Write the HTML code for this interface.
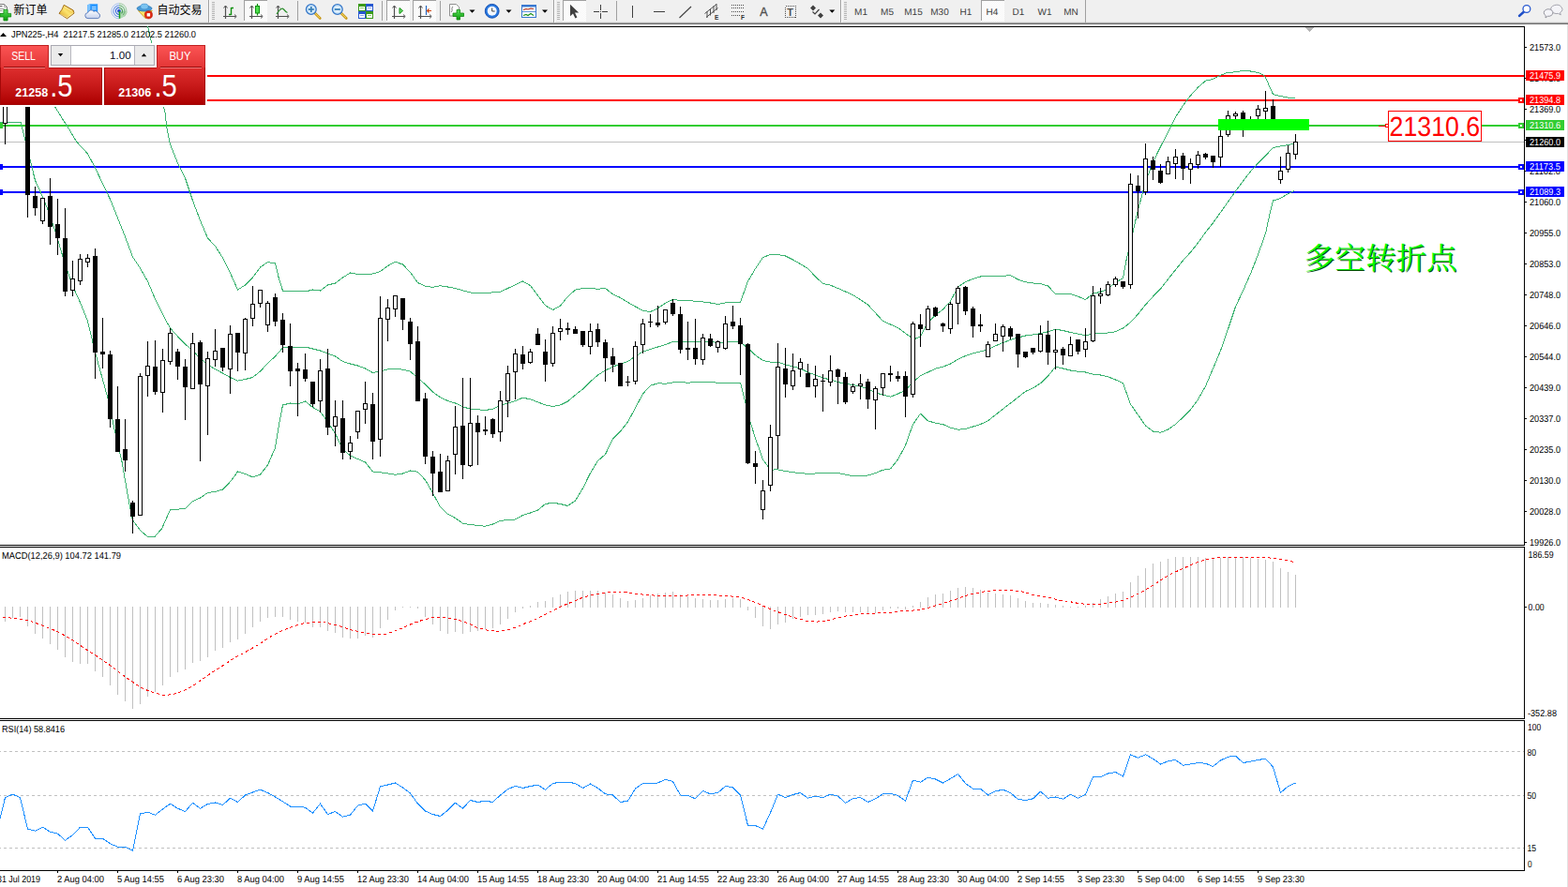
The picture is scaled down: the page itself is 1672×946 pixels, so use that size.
<!DOCTYPE html>
<html><head><meta charset="utf-8"><title>JPN225 H4</title>
<style>
html,body{margin:0;padding:0;background:#fff}
body{width:1672px;height:946px;position:relative;overflow:hidden;font-family:"Liberation Sans",sans-serif}
</style></head><body>
<svg width="1672" height="946" viewBox="0 0 1672 946" style="position:absolute;left:0;top:0" shape-rendering="crispEdges">
<g fill="#000">
<rect x="0" y="28" width="1626" height="1"/>
<rect x="1625" y="28" width="1" height="554"/><rect x="1625" y="583" width="1" height="184"/><rect x="1625" y="768" width="1" height="161"/>
<rect x="0" y="581" width="1626" height="1"/>
<rect x="0" y="583" width="1626" height="1"/>
<rect x="0" y="766" width="1626" height="1"/>
<rect x="0" y="768" width="1626" height="1"/>
<rect x="0" y="928" width="1626" height="1"/>
</g>
<rect x="0" y="151" width="1625" height="1" fill="#c0c0c0"/>
<rect x="0" y="80" width="1625" height="2" fill="#ff0000"/>
<rect x="0" y="106" width="1625" height="2" fill="#ff0000"/>
<rect x="0" y="133" width="1625" height="2" fill="#32cd32"/>
<rect x="0" y="177" width="1625" height="2" fill="#0000ff"/>
<rect x="0" y="204" width="1625" height="2" fill="#0000ff"/>
<rect x="-3" y="131" width="6" height="6" fill="#32cd32"/>
<rect x="-3" y="175" width="6" height="6" fill="#0000ff"/>
<rect x="-3" y="202" width="6" height="6" fill="#0000ff"/>
<rect x="1619" y="104" width="6" height="6" fill="#ff0000"/><rect x="1621" y="106" width="2" height="2" fill="#fff"/>
<rect x="1619" y="131" width="6" height="6" fill="#32cd32"/><rect x="1621" y="133" width="2" height="2" fill="#fff"/>
<rect x="1619" y="175" width="6" height="6" fill="#0000ff"/><rect x="1621" y="177" width="2" height="2" fill="#fff"/>
<rect x="1619" y="202" width="6" height="6" fill="#0000ff"/><rect x="1621" y="204" width="2" height="2" fill="#fff"/>
<path d="M1391 29h10l-5 5z" fill="#b4b4b4"/>
<polyline points="157.5,28.0 161.6,45.6 168.0,80.0 174.0,112.0 176.0,120.0 177.5,134.0 181.5,154.0 189.5,174.0 197.5,190.0 205.5,214.0 213.5,235.0 221.5,254.0 229.5,262.5 237.5,275.0 245.5,291.0 253.5,309.0 261.5,304.0 269.5,296.0 277.5,285.0 285.5,279.5 293.5,281.0 297.5,297.5 301.5,310.0 309.5,310.0 317.5,310.5 325.5,311.0 333.5,309.0 341.5,310.0 349.5,304.0 357.5,302.0 365.5,296.0 373.5,291.0 381.5,292.5 389.5,293.0 397.5,292.0 405.5,289.5 413.5,283.5 421.5,279.3 429.5,282.0 437.5,290.5 445.5,301.5 453.5,305.3 461.5,306.4 469.5,304.7 477.5,306.0 485.5,307.5 501.5,312.0 517.5,312.5 533.5,311.2 549.5,303.8 557.5,300.0 565.5,304.5 573.5,315.0 581.5,325.8 589.5,330.5 597.5,326.2 605.5,316.2 613.5,309.2 621.5,307.5 629.5,307.5 637.5,308.2 645.5,307.5 653.5,313.8 661.5,317.5 669.5,322.5 677.5,327.0 685.5,331.2 693.5,332.5 701.5,328.8 709.5,323.2 717.5,319.5 725.5,320.5 733.5,320.5 741.5,321.2 749.5,322.0 757.5,323.0 765.5,324.5 773.5,323.0 781.5,322.5 789.5,322.3 797.5,300.0 805.5,286.5 813.5,274.5 821.5,271.5 829.5,271.5 837.5,273.0 845.5,277.0 853.5,281.5 861.5,286.5 869.5,295.0 877.5,302.5 885.5,304.2 893.5,307.5 909.5,314.5 925.5,325.0 941.5,342.5 957.5,349.5 970.0,358.8 976.2,361.2 981.5,358.8 989.5,343.8 997.5,336.2 1005.5,330.0 1013.5,321.2 1021.5,306.2 1029.5,300.5 1037.5,297.5 1045.5,295.0 1053.5,294.2 1061.5,294.5 1069.5,294.2 1077.5,293.8 1085.5,298.0 1093.5,300.8 1101.5,302.0 1109.5,302.5 1117.5,305.0 1125.5,313.5 1133.5,313.5 1141.5,313.5 1149.5,316.2 1157.5,319.6 1165.5,313.0 1173.5,311.4 1181.5,308.0 1189.5,301.3 1197.5,296.6 1201.2,276.5 1205.5,259.0 1208.8,244.0 1213.5,224.0 1221.5,194.0 1229.5,172.8 1237.5,156.5 1245.5,141.2 1253.5,125.0 1261.5,112.5 1269.5,101.9 1277.5,93.1 1285.5,86.2 1293.5,84.4 1301.5,80.2 1309.5,77.2 1317.5,76.9 1325.5,75.2 1333.5,76.0 1341.5,77.5 1346.2,79.4 1349.5,82.5 1353.5,91.9 1357.5,100.6 1365.5,102.5 1373.5,104.1 1381.0,104.4" fill="none" stroke="#3cb371" stroke-width="1" />
<polyline points="50.0,100.0 57.5,112.0 65.5,125.0 73.5,137.5 81.5,151.0 93.5,164.0 101.5,179.0 109.5,196.0 117.5,212.5 125.5,232.5 133.5,252.5 141.5,274.0 149.5,286.0 157.5,300.0 165.5,319.0 173.5,335.0 176.0,340.0 181.5,350.0 189.5,358.8 197.5,367.0 205.5,373.8 213.5,382.5 221.5,388.8 229.5,393.8 237.5,398.0 245.5,402.5 253.5,406.2 261.5,404.5 269.5,402.5 277.5,396.0 285.5,387.5 293.5,380.0 301.5,371.0 309.5,370.0 317.5,370.0 325.5,370.0 333.5,372.0 341.5,374.0 349.5,377.0 357.5,380.0 365.5,385.5 373.5,388.0 381.5,390.0 389.5,393.0 397.5,397.5 405.5,396.0 413.5,393.8 421.5,393.2 429.5,394.2 437.5,396.2 445.5,403.0 453.5,410.0 461.5,418.0 469.5,423.8 477.5,427.5 485.5,430.0 493.5,433.8 501.5,436.2 509.5,436.8 517.5,437.5 525.5,436.2 533.5,432.5 541.5,430.0 549.5,427.5 557.5,424.2 565.5,425.8 573.5,428.8 581.5,432.0 589.5,433.5 597.5,432.0 605.5,428.0 613.5,421.2 621.5,415.0 629.5,407.0 637.5,400.0 645.5,395.0 653.5,391.2 661.5,388.0 669.5,385.5 677.5,380.0 685.5,375.0 693.5,372.5 701.5,370.0 709.5,367.5 717.5,364.5 725.5,364.2 733.5,364.2 741.5,364.5 749.5,364.5 757.5,364.5 765.5,365.5 773.5,365.0 781.5,364.5 789.5,365.0 797.5,371.2 805.5,378.8 813.5,384.5 821.5,386.2 829.5,386.2 837.5,388.8 845.5,390.8 853.5,393.0 861.5,397.0 869.5,400.0 877.5,403.0 885.5,405.0 893.5,407.5 901.5,409.5 909.5,410.5 917.5,412.0 925.5,415.0 933.5,418.8 941.5,421.2 949.5,423.2 957.5,420.0 965.5,416.2 973.5,407.5 981.5,400.8 989.5,397.0 997.5,393.2 1005.5,391.2 1013.5,388.0 1021.5,383.2 1029.5,379.5 1037.5,376.8 1045.5,375.0 1053.5,372.5 1061.5,368.8 1069.5,365.5 1077.5,362.5 1085.5,360.0 1093.5,358.0 1101.5,357.0 1109.5,355.5 1117.5,353.8 1125.5,351.2 1133.5,352.5 1141.5,354.5 1149.5,356.2 1157.5,357.5 1165.5,356.2 1173.5,355.5 1181.5,355.0 1189.5,353.8 1197.5,350.0 1205.5,343.8 1213.5,335.0 1221.5,325.0 1229.5,316.2 1237.5,308.0 1245.5,297.8 1253.5,287.8 1261.5,277.8 1269.5,269.0 1277.5,259.0 1285.5,247.8 1293.5,237.8 1301.5,226.5 1309.5,215.2 1317.5,204.0 1325.5,193.2 1333.5,182.8 1341.5,174.0 1349.5,166.0 1357.5,157.5 1365.5,156.0 1373.5,154.5 1380.5,153.0" fill="none" stroke="#3cb371" stroke-width="1" />
<polyline points="0.0,130.0 22.0,130.0 29.5,160.0 37.5,192.5 45.5,210.0 53.5,230.0 61.5,255.0 69.5,282.5 77.5,305.0 85.5,322.5 93.5,342.5 101.5,375.8 115.0,425.0 122.5,460.0 130.0,492.5 137.5,535.0 141.5,555.0 150.0,566.0 157.5,572.5 165.0,572.5 172.5,563.8 181.5,543.8 197.5,542.5 205.5,534.5 213.5,531.0 221.5,525.5 229.5,524.5 237.5,522.0 245.5,513.8 253.5,503.0 261.5,505.5 269.5,508.8 277.5,506.0 285.5,496.0 293.5,477.5 297.5,452.5 301.5,432.0 309.5,430.0 317.5,431.0 325.5,428.0 333.5,434.5 341.5,439.0 349.5,450.0 357.5,462.5 365.5,478.8 373.5,486.0 381.5,489.5 389.5,493.0 397.5,503.0 405.5,503.8 413.5,505.0 421.5,506.2 429.5,505.0 437.5,502.0 445.5,503.2 453.5,512.0 461.5,525.8 469.5,540.8 477.5,548.2 485.5,552.5 493.5,558.2 501.5,559.5 509.5,560.5 517.5,561.2 525.5,559.0 533.5,555.5 541.5,554.5 549.5,554.0 557.5,549.5 565.5,547.0 573.5,544.0 581.5,537.5 589.5,536.2 597.5,537.5 605.5,539.5 613.5,534.0 621.5,520.8 629.5,504.5 637.5,491.5 645.5,484.5 653.5,468.2 661.5,460.0 669.5,450.0 677.5,435.0 685.5,420.0 693.5,411.2 701.5,408.8 709.5,409.2 717.5,408.0 725.5,407.5 733.5,408.2 741.5,407.5 749.5,407.5 757.5,407.5 765.5,408.2 773.5,408.2 781.5,408.2 789.5,408.2 795.0,430.0 800.0,450.0 805.5,467.5 813.5,490.0 821.5,501.2 829.5,500.8 837.5,502.5 845.5,503.8 853.5,504.5 861.5,505.5 869.5,505.0 877.5,504.5 885.5,504.5 893.5,504.5 901.5,506.2 909.5,507.5 917.5,507.5 925.5,507.0 933.5,504.5 941.5,501.2 949.5,500.0 957.5,490.0 965.5,475.0 973.5,452.5 981.5,441.2 989.5,448.8 997.5,451.2 1005.5,452.5 1013.5,456.2 1021.5,458.2 1029.5,457.5 1037.5,455.0 1045.5,452.5 1053.5,448.8 1061.5,442.5 1069.5,436.2 1077.5,430.0 1085.5,423.8 1093.5,417.5 1101.5,413.8 1109.5,408.8 1117.5,401.2 1125.5,391.2 1133.5,393.0 1141.5,395.0 1149.5,396.2 1157.5,397.0 1165.5,399.2 1173.5,400.0 1181.5,401.8 1189.5,405.0 1197.5,408.8 1205.5,431.0 1213.5,442.5 1221.5,454.0 1229.5,460.0 1237.5,461.3 1245.5,458.0 1253.5,452.5 1261.5,445.0 1269.5,437.0 1277.5,426.0 1285.5,412.0 1293.5,393.0 1301.5,374.0 1309.5,351.0 1317.5,327.0 1325.5,310.0 1333.5,292.0 1341.5,271.5 1349.5,249.0 1353.8,229.0 1357.5,214.0 1365.5,211.5 1373.5,206.5 1380.5,203.5" fill="none" stroke="#3cb371" stroke-width="1" />
<path d="M5 100h1v54h-1zM29 90h1v142h-1zM37 199h1v31h-1zM45 211h1v28h-1zM53 190h1v71h-1zM61 212h1v60h-1zM69 222h1v94h-1zM77 278h1v38h-1zM85 271h1v33h-1zM93 271h1v14h-1zM101 265h1v139h-1zM109 339h1v54h-1zM117 374h1v82h-1zM125 412h1v70h-1zM133 447h1v56h-1zM141 534h1v35h-1zM149 398h1v152h-1zM157 364h1v59h-1zM165 363h1v58h-1zM173 372h1v68h-1zM181 350h1v39h-1zM189 372h1v33h-1zM197 383h1v65h-1zM205 355h1v60h-1zM213 363h1v129h-1zM221 375h1v89h-1zM229 351h1v40h-1zM237 371h1v25h-1zM245 347h1v73h-1zM253 355h1v41h-1zM261 339h1v56h-1zM269 305h1v43h-1zM277 309h1v19h-1zM285 321h1v33h-1zM293 313h1v35h-1zM301 334h1v42h-1zM309 345h1v67h-1zM317 387h1v57h-1zM325 377h1v30h-1zM333 407h1v27h-1zM341 383h1v57h-1zM349 372h1v92h-1zM357 427h1v49h-1zM365 427h1v63h-1zM373 465h1v25h-1zM381 438h1v30h-1zM389 407h1v45h-1zM397 419h1v71h-1zM405 316h1v171h-1zM413 319h1v45h-1zM421 315h1v23h-1zM429 318h1v34h-1zM437 339h1v45h-1zM445 348h1v80h-1zM453 419h1v76h-1zM461 481h1v48h-1zM469 484h1v41h-1zM477 486h1v38h-1zM485 433h1v73h-1zM493 403h1v108h-1zM501 403h1v95h-1zM509 443h1v53h-1zM517 444h1v20h-1zM525 446h1v21h-1zM533 417h1v54h-1zM541 390h1v55h-1zM549 372h1v54h-1zM557 369h1v25h-1zM565 372h1v16h-1zM573 350h1v18h-1zM581 362h1v45h-1zM589 348h1v43h-1zM597 340h1v23h-1zM605 344h1v13h-1zM613 348h1v8h-1zM621 353h1v17h-1zM629 345h1v33h-1zM637 345h1v25h-1zM645 362h1v45h-1zM653 371h1v26h-1zM661 387h1v25h-1zM669 401h1v11h-1zM677 364h1v46h-1zM685 340h1v37h-1zM693 335h1v14h-1zM701 326h1v23h-1zM709 330h1v16h-1zM717 319h1v18h-1zM725 327h1v50h-1zM733 343h1v41h-1zM741 340h1v49h-1zM749 356h1v33h-1zM757 356h1v14h-1zM765 363h1v13h-1zM773 337h1v36h-1zM781 326h1v25h-1zM789 339h1v61h-1zM797 366h1v129h-1zM805 481h1v35h-1zM813 512h1v42h-1zM821 453h1v71h-1zM829 366h1v134h-1zM837 371h1v53h-1zM845 377h1v39h-1zM853 382h1v20h-1zM861 388h1v25h-1zM869 390h1v34h-1zM877 399h1v40h-1zM885 379h1v33h-1zM893 393h1v38h-1zM901 397h1v34h-1zM909 409h1v11h-1zM917 399h1v27h-1zM925 404h1v32h-1zM933 412h1v46h-1zM941 398h1v24h-1zM949 390h1v17h-1zM957 396h1v11h-1zM965 396h1v49h-1zM973 343h1v81h-1zM981 335h1v35h-1zM989 326h1v26h-1zM997 327h1v11h-1zM1005 344h1v10h-1zM1013 322h1v34h-1zM1021 305h1v41h-1zM1029 305h1v31h-1zM1037 327h1v33h-1zM1045 335h1v19h-1zM1053 364h1v17h-1zM1061 345h1v19h-1zM1069 346h1v29h-1zM1077 348h1v14h-1zM1085 356h1v36h-1zM1093 375h1v7h-1zM1101 371h1v7h-1zM1109 347h1v29h-1zM1117 342h1v47h-1zM1125 351h1v43h-1zM1133 370h1v19h-1zM1141 359h1v21h-1zM1149 362h1v16h-1zM1157 350h1v31h-1zM1165 305h1v60h-1zM1173 307h1v17h-1zM1181 300h1v16h-1zM1189 295h1v11h-1zM1197 300h1v8h-1zM1205 185h1v123h-1zM1213 187h1v46h-1zM1221 153h1v55h-1zM1229 167h1v25h-1zM1237 175h1v21h-1zM1245 167h1v19h-1zM1253 159h1v32h-1zM1261 163h1v29h-1zM1269 169h1v27h-1zM1277 161h1v19h-1zM1285 163h1v7h-1zM1293 166h1v13h-1zM1301 130h1v48h-1zM1309 118h1v28h-1zM1317 119h1v9h-1zM1325 118h1v28h-1zM1333 124h1v10h-1zM1341 112h1v17h-1zM1349 97h1v33h-1zM1357 106h1v27h-1zM1365 167h1v29h-1zM1373 155h1v29h-1zM1381 143h1v27h-1z" fill="#000"/>
<path d="M27 95h5v113h-5zM35 209h5v13h-5zM51 209h5v33h-5zM59 239h5v15h-5zM67 254h5v57h-5zM99 273h5v103h-5zM107 375h5v3h-5zM115 378h5v69h-5zM123 447h5v35h-5zM131 479h5v12h-5zM139 536h5v15h-5zM163 391h5v27h-5zM187 375h5v16h-5zM195 391h5v22h-5zM211 365h5v45h-5zM235 371h5v21h-5zM251 355h5v21h-5zM291 317h5v26h-5zM299 341h5v27h-5zM307 369h5v27h-5zM315 393h5v3h-5zM323 394h5v10h-5zM331 407h5v24h-5zM347 393h5v63h-5zM363 446h5v37h-5zM395 431h5v40h-5zM427 318h5v23h-5zM435 343h5v24h-5zM443 364h5v64h-5zM451 425h5v62h-5zM459 487h5v18h-5zM467 503h5v22h-5zM491 454h5v42h-5zM507 451h5v10h-5zM515 458h5v2h-5zM523 447h5v16h-5zM555 378h5v10h-5zM571 356h5v12h-5zM579 375h5v14h-5zM603 350h5v2h-5zM611 351h5v5h-5zM619 353h5v15h-5zM635 351h5v14h-5zM643 365h5v17h-5zM651 380h5v9h-5zM659 387h5v25h-5zM667 407h5v1h-5zM691 343h5v1h-5zM699 344h5v3h-5zM715 323h5v12h-5zM723 335h5v38h-5zM731 371h5v2h-5zM739 371h5v12h-5zM755 361h5v8h-5zM779 343h5v5h-5zM787 347h5v20h-5zM795 367h5v127h-5zM803 494h5v4h-5zM835 393h5v17h-5zM859 398h5v15h-5zM875 406h5v1h-5zM891 394h5v8h-5zM899 402h5v27h-5zM923 407h5v19h-5zM947 398h5v2h-5zM955 401h5v3h-5zM963 401h5v22h-5zM979 346h5v5h-5zM995 328h5v9h-5zM1003 345h5v3h-5zM1027 306h5v26h-5zM1035 329h5v19h-5zM1043 346h5v2h-5zM1075 350h5v9h-5zM1083 356h5v22h-5zM1091 375h5v6h-5zM1099 371h5v5h-5zM1115 357h5v19h-5zM1131 372h5v7h-5zM1147 362h5v13h-5zM1195 300h5v6h-5zM1211 198h5v6h-5zM1227 171h5v10h-5zM1235 182h5v13h-5zM1259 166h5v14h-5zM1283 164h5v4h-5zM1291 166h5v7h-5zM1323 120h5v10h-5zM1331 129h5v1h-5zM1355 113h5v17h-5z" fill="#000"/>
<g fill="#fff" stroke="#000" stroke-width="1"><rect x="3.5" y="100.5" width="4" height="31"/><rect x="43.5" y="211.5" width="4" height="24"/><rect x="75.5" y="297.5" width="4" height="12"/><rect x="83.5" y="276.5" width="4" height="23"/><rect x="91.5" y="275.5" width="4" height="4"/><rect x="147.5" y="401.5" width="4" height="148"/><rect x="155.5" y="390.5" width="4" height="10"/><rect x="171.5" y="384.5" width="4" height="34"/><rect x="179.5" y="355.5" width="4" height="30"/><rect x="203.5" y="366.5" width="4" height="48"/><rect x="219.5" y="382.5" width="4" height="29"/><rect x="227.5" y="374.5" width="4" height="9"/><rect x="243.5" y="356.5" width="4" height="37"/><rect x="259.5" y="340.5" width="4" height="36"/><rect x="267.5" y="324.5" width="4" height="15"/><rect x="275.5" y="309.5" width="4" height="14"/><rect x="283.5" y="323.5" width="4" height="23"/><rect x="339.5" y="395.5" width="4" height="32"/><rect x="355.5" y="444.5" width="4" height="10"/><rect x="371.5" y="472.5" width="4" height="9"/><rect x="379.5" y="438.5" width="4" height="22"/><rect x="387.5" y="430.5" width="4" height="6"/><rect x="403.5" y="339.5" width="4" height="129"/><rect x="411.5" y="328.5" width="4" height="12"/><rect x="419.5" y="315.5" width="4" height="14"/><rect x="475.5" y="491.5" width="4" height="32"/><rect x="483.5" y="455.5" width="4" height="29"/><rect x="499.5" y="451.5" width="4" height="45"/><rect x="531.5" y="427.5" width="4" height="33"/><rect x="539.5" y="398.5" width="4" height="29"/><rect x="547.5" y="377.5" width="4" height="19"/><rect x="563.5" y="375.5" width="4" height="11"/><rect x="587.5" y="355.5" width="4" height="32"/><rect x="595.5" y="350.5" width="4" height="3"/><rect x="627.5" y="353.5" width="4" height="16"/><rect x="675.5" y="369.5" width="4" height="37"/><rect x="683.5" y="345.5" width="4" height="22"/><rect x="707.5" y="330.5" width="4" height="13"/><rect x="747.5" y="360.5" width="4" height="23"/><rect x="763.5" y="364.5" width="4" height="6"/><rect x="771.5" y="345.5" width="4" height="26"/><rect x="811.5" y="523.5" width="4" height="20"/><rect x="819.5" y="466.5" width="4" height="51"/><rect x="827.5" y="391.5" width="4" height="73"/><rect x="843.5" y="395.5" width="4" height="16"/><rect x="851.5" y="386.5" width="4" height="7"/><rect x="867.5" y="404.5" width="4" height="7"/><rect x="883.5" y="395.5" width="4" height="12"/><rect x="907.5" y="412.5" width="4" height="5"/><rect x="915.5" y="409.5" width="4" height="2"/><rect x="931.5" y="414.5" width="4" height="12"/><rect x="939.5" y="398.5" width="4" height="15"/><rect x="971.5" y="345.5" width="4" height="75"/><rect x="987.5" y="329.5" width="4" height="22"/><rect x="1011.5" y="324.5" width="4" height="26"/><rect x="1019.5" y="307.5" width="4" height="16"/><rect x="1051.5" y="367.5" width="4" height="13"/><rect x="1059.5" y="356.5" width="4" height="7"/><rect x="1067.5" y="348.5" width="4" height="10"/><rect x="1107.5" y="356.5" width="4" height="18"/><rect x="1123.5" y="373.5" width="4" height="2"/><rect x="1139.5" y="367.5" width="4" height="12"/><rect x="1155.5" y="364.5" width="4" height="8"/><rect x="1163.5" y="315.5" width="4" height="48"/><rect x="1171.5" y="313.5" width="4" height="2"/><rect x="1179.5" y="303.5" width="4" height="11"/><rect x="1187.5" y="297.5" width="4" height="6"/><rect x="1203.5" y="196.5" width="4" height="107"/><rect x="1219.5" y="169.5" width="4" height="35"/><rect x="1243.5" y="172.5" width="4" height="13"/><rect x="1251.5" y="167.5" width="4" height="7"/><rect x="1267.5" y="174.5" width="4" height="6"/><rect x="1275.5" y="165.5" width="4" height="10"/><rect x="1299.5" y="145.5" width="4" height="22"/><rect x="1307.5" y="123.5" width="4" height="20"/><rect x="1315.5" y="121.5" width="4" height="2"/><rect x="1339.5" y="116.5" width="4" height="7"/><rect x="1347.5" y="115.5" width="4" height="3"/><rect x="1363.5" y="182.5" width="4" height="9"/><rect x="1371.5" y="163.5" width="4" height="17"/><rect x="1379.5" y="151.5" width="4" height="13"/></g>
<rect x="1299" y="127" width="97" height="12" fill="#00ff00"/>
<rect x="1470" y="134" width="8" height="1" fill="#ff0000"/>
<rect x="1477" y="132" width="4" height="4" fill="#ff0000"/><rect x="1478" y="133" width="2" height="2" fill="#fff"/>
<rect x="1480.5" y="118.5" width="99" height="32" fill="#fff" stroke="#ff0000" stroke-width="1"/>
<path d="M5 647h1v16h-1zM13 647h1v12h-1zM21 647h1v11h-1zM29 647h1v21h-1zM37 647h1v29h-1zM45 647h1v34h-1zM53 647h1v40h-1zM61 647h1v46h-1zM69 647h1v54h-1zM77 647h1v59h-1zM85 647h1v61h-1zM93 647h1v61h-1zM101 647h1v69h-1zM109 647h1v75h-1zM117 647h1v84h-1zM125 647h1v94h-1zM133 647h1v101h-1zM141 647h1v109h-1zM149 647h1v104h-1zM157 647h1v96h-1zM165 647h1v91h-1zM173 647h1v84h-1zM181 647h1v75h-1zM189 647h1v70h-1zM197 647h1v67h-1zM205 647h1v60h-1zM213 647h1v58h-1zM221 647h1v54h-1zM229 647h1v47h-1zM237 647h1v44h-1zM245 647h1v38h-1zM253 647h1v35h-1zM261 647h1v29h-1zM269 647h1v22h-1zM277 647h1v16h-1zM285 647h1v12h-1zM293 647h1v11h-1zM301 647h1v11h-1zM309 647h1v14h-1zM317 647h1v16h-1zM325 647h1v17h-1zM333 647h1v22h-1zM341 647h1v22h-1zM349 647h1v26h-1zM357 647h1v28h-1zM365 647h1v33h-1zM373 647h1v34h-1zM381 647h1v34h-1zM389 647h1v31h-1zM397 647h1v33h-1zM405 647h1v23h-1zM413 647h1v14h-1zM421 647h1v4h-1zM429 647h1v1h-1zM437 647h1v1h-1zM445 647h1v2h-1zM453 647h1v11h-1zM461 647h1v19h-1zM469 647h1v26h-1zM477 647h1v29h-1zM485 647h1v27h-1zM493 647h1v29h-1zM501 647h1v27h-1zM509 647h1v26h-1zM517 647h1v24h-1zM525 647h1v23h-1zM533 647h1v19h-1zM541 647h1v13h-1zM549 647h1v6h-1zM557 647h1v2h-1zM565 646h1v2h-1zM573 642h1v6h-1zM581 641h1v7h-1zM589 637h1v11h-1zM597 634h1v14h-1zM605 631h1v17h-1zM613 630h1v18h-1zM621 630h1v18h-1zM629 630h1v18h-1zM637 630h1v18h-1zM645 632h1v16h-1zM653 634h1v14h-1zM661 638h1v10h-1zM669 641h1v7h-1zM677 640h1v8h-1zM685 638h1v10h-1zM693 635h1v13h-1zM701 633h1v15h-1zM709 632h1v16h-1zM717 631h1v17h-1zM725 634h1v14h-1zM733 636h1v12h-1zM741 638h1v10h-1zM749 639h1v9h-1zM757 640h1v8h-1zM765 640h1v8h-1zM773 639h1v9h-1zM781 638h1v10h-1zM789 639h1v9h-1zM797 647h1v4h-1zM805 647h1v12h-1zM813 647h1v21h-1zM821 647h1v24h-1zM829 647h1v19h-1zM837 647h1v17h-1zM845 647h1v13h-1zM853 647h1v11h-1zM861 647h1v9h-1zM869 647h1v9h-1zM877 647h1v8h-1zM885 647h1v6h-1zM893 647h1v5h-1zM901 647h1v6h-1zM909 647h1v6h-1zM917 647h1v6h-1zM925 647h1v7h-1zM933 647h1v7h-1zM941 647h1v4h-1zM949 647h1v2h-1zM957 647h1v2h-1zM965 647h1v3h-1zM973 646h1v2h-1zM981 642h1v6h-1zM989 637h1v11h-1zM997 634h1v14h-1zM1005 633h1v15h-1zM1013 630h1v18h-1zM1021 627h1v21h-1zM1029 626h1v22h-1zM1037 627h1v21h-1zM1045 629h1v19h-1zM1053 632h1v16h-1zM1061 633h1v15h-1zM1069 634h1v14h-1zM1077 635h1v13h-1zM1085 638h1v10h-1zM1093 641h1v7h-1zM1101 643h1v5h-1zM1109 643h1v5h-1zM1117 644h1v4h-1zM1125 645h1v3h-1zM1133 646h1v2h-1zM1141 647h1v1h-1zM1149 647h1v1h-1zM1157 646h1v2h-1zM1165 643h1v5h-1zM1173 639h1v9h-1zM1181 636h1v12h-1zM1189 633h1v15h-1zM1197 631h1v17h-1zM1205 621h1v27h-1zM1213 614h1v34h-1zM1221 606h1v42h-1zM1229 601h1v47h-1zM1237 599h1v49h-1zM1245 596h1v52h-1zM1253 594h1v54h-1zM1261 594h1v54h-1zM1269 594h1v54h-1zM1277 594h1v54h-1zM1285 595h1v53h-1zM1293 595h1v53h-1zM1301 595h1v53h-1zM1309 594h1v54h-1zM1317 594h1v54h-1zM1325 594h1v54h-1zM1333 595h1v53h-1zM1341 596h1v52h-1zM1349 597h1v51h-1zM1357 599h1v49h-1zM1365 606h1v42h-1zM1373 610h1v38h-1zM1381 613h1v35h-1z" fill="#c0c0c0"/>
<polyline points="3.0,658.0 15.0,659.5 30.0,661.5 45.0,667.0 60.0,673.0 75.0,681.0 90.0,691.5 105.0,701.0 120.0,711.5 135.0,723.0 150.0,733.0 157.5,736.5 165.0,739.0 175.0,741.5 185.0,740.5 195.0,737.0 205.0,732.0 215.0,725.0 225.0,718.0 237.5,710.0 250.0,701.5 262.5,695.0 275.0,688.0 287.5,679.5 300.0,673.0 312.5,668.0 325.0,664.5 335.0,663.5 345.0,663.5 355.0,666.0 365.0,668.5 375.0,672.0 385.0,674.0 395.0,676.0 405.0,676.5 410.0,676.5 420.0,673.5 430.0,669.5 440.0,664.8 450.0,661.5 460.0,659.0 470.0,658.2 480.0,659.5 490.0,661.5 500.0,665.2 510.0,669.8 520.0,672.2 530.0,673.2 540.0,672.2 550.0,669.0 560.0,664.8 570.0,661.0 580.0,656.0 590.0,651.0 600.0,646.0 610.0,642.0 620.0,637.8 630.0,634.8 640.0,632.8 650.0,631.5 660.0,631.0 670.0,632.0 680.0,633.5 690.0,634.5 700.0,635.2 710.0,635.2 720.0,635.2 730.0,635.2 740.0,634.5 750.0,634.5 760.0,634.5 770.0,635.2 780.0,636.0 790.0,637.0 800.0,640.2 810.0,644.5 820.0,649.0 830.0,652.8 840.0,656.5 850.0,659.5 860.0,662.2 870.0,663.2 880.0,662.2 890.0,659.8 900.0,657.2 910.0,656.0 920.0,654.8 930.0,654.5 940.0,653.5 950.0,653.2 960.0,652.0 970.0,651.5 980.0,650.2 990.0,648.2 1000.0,645.2 1010.0,642.0 1020.0,639.0 1030.0,635.2 1040.0,632.8 1050.0,630.8 1060.0,629.8 1070.0,629.5 1080.0,629.8 1090.0,631.0 1100.0,634.0 1110.0,635.8 1120.0,637.8 1130.0,640.2 1140.0,641.5 1150.0,643.5 1160.0,644.5 1170.0,644.5 1180.0,643.5 1190.0,642.0 1200.0,639.5 1210.0,635.0 1220.0,630.0 1230.0,624.0 1240.0,617.2 1250.0,611.5 1260.0,607.0 1270.0,602.5 1280.0,598.5 1290.0,596.0 1300.0,594.7 1310.0,594.5 1320.0,594.5 1330.0,594.5 1340.0,594.5 1350.0,594.5 1360.0,595.8 1370.0,597.0 1380.0,599.5" fill="none" stroke="#ff0000" stroke-width="1" stroke-dasharray="3 3"/>
<line x1="-2" y1="801.5" x2="1625" y2="801.5" stroke="#c0c0c0" stroke-width="1" stroke-dasharray="3 3"/>
<line x1="-2" y1="848.5" x2="1625" y2="848.5" stroke="#c0c0c0" stroke-width="1" stroke-dasharray="3 3"/>
<line x1="-2" y1="904.5" x2="1625" y2="904.5" stroke="#c0c0c0" stroke-width="1" stroke-dasharray="3 3"/>
<polyline points="0.0,873.0 5.5,850.5 13.5,847.2 21.5,850.5 29.5,884.2 37.5,886.2 45.5,882.2 53.5,887.2 61.5,889.2 69.5,896.2 77.5,890.5 85.5,882.2 93.5,882.2 101.5,894.2 109.5,894.2 117.5,899.8 125.5,903.2 133.5,903.2 141.5,907.2 149.5,868.0 157.5,866.2 165.5,869.2 173.5,863.0 181.5,857.2 189.5,862.2 197.5,865.5 205.5,856.2 213.5,862.2 221.5,857.5 229.5,856.0 237.5,858.5 245.5,851.2 253.5,855.5 261.5,848.0 269.5,845.0 277.5,842.2 285.5,845.5 293.5,850.0 301.5,854.8 309.5,860.0 317.5,860.0 325.5,861.2 333.5,867.2 341.5,857.2 349.5,868.5 357.5,865.5 365.5,871.2 373.5,869.2 381.5,859.2 389.5,857.2 397.5,865.0 405.5,838.8 413.5,837.0 421.5,835.0 429.5,840.0 437.5,846.0 445.5,857.2 453.5,865.0 461.5,868.5 469.5,870.5 477.5,864.2 485.5,856.2 493.5,862.2 501.5,853.5 509.5,855.5 517.5,854.2 525.5,855.5 533.5,848.0 541.5,841.8 549.5,838.2 557.5,840.5 565.5,838.5 573.5,837.2 581.5,842.2 589.5,835.5 597.5,834.2 605.5,834.2 613.5,835.5 621.5,840.5 629.5,836.0 637.5,840.5 645.5,846.8 653.5,848.0 661.5,855.5 669.5,854.2 677.5,841.0 685.5,835.5 693.5,835.5 701.5,835.0 709.5,831.2 717.5,833.5 725.5,848.0 733.5,848.5 741.5,851.8 749.5,843.5 757.5,846.8 765.5,845.5 773.5,838.5 781.5,839.8 789.5,848.0 797.5,880.5 805.5,880.5 813.5,884.2 821.5,866.8 829.5,847.2 837.5,850.5 845.5,847.5 853.5,845.5 861.5,851.2 869.5,849.2 877.5,850.5 885.5,847.2 893.5,849.2 901.5,856.2 909.5,851.8 917.5,850.5 925.5,855.5 933.5,851.8 941.5,846.8 949.5,846.2 957.5,848.5 965.5,854.2 973.5,832.2 981.5,834.2 989.5,829.2 997.5,831.0 1005.5,835.0 1013.5,830.5 1021.5,825.5 1029.5,835.5 1037.5,841.2 1045.5,841.2 1053.5,848.0 1061.5,843.8 1069.5,842.2 1077.5,845.5 1085.5,852.5 1093.5,853.5 1101.5,851.8 1109.5,844.2 1117.5,851.2 1125.5,850.0 1133.5,852.2 1141.5,847.2 1149.5,851.2 1157.5,847.2 1165.5,828.5 1173.5,828.5 1181.5,825.0 1189.5,823.5 1197.5,828.0 1205.5,805.0 1213.5,808.2 1221.5,804.8 1229.5,809.2 1237.5,815.0 1245.5,811.8 1253.5,810.5 1261.5,816.2 1269.5,815.0 1277.5,813.5 1285.5,814.2 1293.5,817.5 1301.5,811.0 1309.5,807.2 1317.5,806.2 1325.5,813.5 1333.5,812.2 1341.5,810.5 1349.5,809.2 1357.5,818.0 1365.5,845.5 1373.5,838.5 1381.5,835.0" fill="none" stroke="#1e90ff" stroke-width="1" />
<path d="M1626 50h2v1h-2zM1626 83h2v1h-2zM1626 116h2v1h-2zM1626 149h2v1h-2zM1626 182h2v1h-2zM1626 215h2v1h-2zM1626 248h2v1h-2zM1626 281h2v1h-2zM1626 314h2v1h-2zM1626 347h2v1h-2zM1626 380h2v1h-2zM1626 413h2v1h-2zM1626 446h2v1h-2zM1626 479h2v1h-2zM1626 512h2v1h-2zM1626 545h2v1h-2zM1626 578h2v1h-2zM1626 647h2v1h-2zM-3 929h1v2h-1zM61 929h1v2h-1zM125 929h1v2h-1zM189 929h1v2h-1zM253 929h1v2h-1zM317 929h1v2h-1zM381 929h1v2h-1zM445 929h1v2h-1zM509 929h1v2h-1zM573 929h1v2h-1zM637 929h1v2h-1zM701 929h1v2h-1zM765 929h1v2h-1zM829 929h1v2h-1zM893 929h1v2h-1zM957 929h1v2h-1zM1021 929h1v2h-1zM1085 929h1v2h-1zM1149 929h1v2h-1zM1213 929h1v2h-1zM1277 929h1v2h-1zM1341 929h1v2h-1z" fill="#000"/>
</svg>
<svg width="1672" height="946" viewBox="0 0 1672 946" style="position:absolute;left:0;top:0" font-family="Liberation Sans, sans-serif" font-size="10.2" fill="#000" text-rendering="geometricPrecision">
<text x="1631" y="54" textLength="33" lengthAdjust="spacingAndGlyphs">21573.0</text>
<text x="1631" y="87" textLength="33" lengthAdjust="spacingAndGlyphs">21471.0</text>
<text x="1631" y="120" textLength="33" lengthAdjust="spacingAndGlyphs">21369.0</text>
<text x="1631" y="186" textLength="33" lengthAdjust="spacingAndGlyphs">21162.0</text>
<text x="1631" y="219" textLength="33" lengthAdjust="spacingAndGlyphs">21060.0</text>
<text x="1631" y="252" textLength="33" lengthAdjust="spacingAndGlyphs">20955.0</text>
<text x="1631" y="285" textLength="33" lengthAdjust="spacingAndGlyphs">20853.0</text>
<text x="1631" y="318" textLength="33" lengthAdjust="spacingAndGlyphs">20748.0</text>
<text x="1631" y="351" textLength="33" lengthAdjust="spacingAndGlyphs">20646.0</text>
<text x="1631" y="384" textLength="33" lengthAdjust="spacingAndGlyphs">20544.0</text>
<text x="1631" y="417" textLength="33" lengthAdjust="spacingAndGlyphs">20439.0</text>
<text x="1631" y="450" textLength="33" lengthAdjust="spacingAndGlyphs">20337.0</text>
<text x="1631" y="483" textLength="33" lengthAdjust="spacingAndGlyphs">20235.0</text>
<text x="1631" y="516" textLength="33" lengthAdjust="spacingAndGlyphs">20130.0</text>
<text x="1631" y="549" textLength="33" lengthAdjust="spacingAndGlyphs">20028.0</text>
<text x="1631" y="582" textLength="33" lengthAdjust="spacingAndGlyphs">19926.0</text>
<text x="1629.6" y="594.5" textLength="27" lengthAdjust="spacingAndGlyphs" >186.59</text>
<text x="1629.6" y="651" textLength="17" lengthAdjust="spacingAndGlyphs" >0.00</text>
<text x="1629" y="764" textLength="31" lengthAdjust="spacingAndGlyphs" >-352.88</text>
<text x="1629" y="779" textLength="14.2" lengthAdjust="spacingAndGlyphs" >100</text>
<text x="1628.5" y="806" textLength="9.6" lengthAdjust="spacingAndGlyphs" >80</text>
<text x="1628.5" y="852" textLength="9.6" lengthAdjust="spacingAndGlyphs" >50</text>
<text x="1628.5" y="908" textLength="9.6" lengthAdjust="spacingAndGlyphs" >15</text>
<text x="1629" y="925" textLength="4.6" lengthAdjust="spacingAndGlyphs" >0</text>
<rect x="1627" y="75" width="41" height="11" fill="#ff0000" shape-rendering="crispEdges"/>
<text x="1631" y="84" textLength="33" lengthAdjust="spacingAndGlyphs" fill="#fff">21475.9</text>
<rect x="1627" y="101" width="41" height="11" fill="#ff0000" shape-rendering="crispEdges"/>
<text x="1631" y="110" textLength="33" lengthAdjust="spacingAndGlyphs" fill="#fff">21394.8</text>
<rect x="1627" y="128" width="41" height="11" fill="#32cd32" shape-rendering="crispEdges"/>
<text x="1631" y="137" textLength="33" lengthAdjust="spacingAndGlyphs" fill="#fff">21310.6</text>
<rect x="1627" y="146" width="41" height="11" fill="#000000" shape-rendering="crispEdges"/>
<text x="1631" y="155" textLength="33" lengthAdjust="spacingAndGlyphs" fill="#fff">21260.0</text>
<rect x="1627" y="172" width="41" height="11" fill="#0000ff" shape-rendering="crispEdges"/>
<text x="1631" y="181" textLength="33" lengthAdjust="spacingAndGlyphs" fill="#fff">21173.5</text>
<rect x="1627" y="199" width="41" height="11" fill="#0000ff" shape-rendering="crispEdges"/>
<text x="1631" y="208" textLength="33" lengthAdjust="spacingAndGlyphs" fill="#fff">21089.3</text>
<text x="-3" y="941" textLength="46" lengthAdjust="spacingAndGlyphs" >31 Jul 2019</text>
<text x="61" y="941" textLength="50" lengthAdjust="spacingAndGlyphs" >2 Aug 04:00</text>
<text x="125" y="941" textLength="50" lengthAdjust="spacingAndGlyphs" >5 Aug 14:55</text>
<text x="189" y="941" textLength="50" lengthAdjust="spacingAndGlyphs" >6 Aug 23:30</text>
<text x="253" y="941" textLength="50" lengthAdjust="spacingAndGlyphs" >8 Aug 04:00</text>
<text x="317" y="941" textLength="50" lengthAdjust="spacingAndGlyphs" >9 Aug 14:55</text>
<text x="381" y="941" textLength="55" lengthAdjust="spacingAndGlyphs" >12 Aug 23:30</text>
<text x="445" y="941" textLength="55" lengthAdjust="spacingAndGlyphs" >14 Aug 04:00</text>
<text x="509" y="941" textLength="55" lengthAdjust="spacingAndGlyphs" >15 Aug 14:55</text>
<text x="573" y="941" textLength="55" lengthAdjust="spacingAndGlyphs" >18 Aug 23:30</text>
<text x="637" y="941" textLength="55" lengthAdjust="spacingAndGlyphs" >20 Aug 04:00</text>
<text x="701" y="941" textLength="55" lengthAdjust="spacingAndGlyphs" >21 Aug 14:55</text>
<text x="765" y="941" textLength="55" lengthAdjust="spacingAndGlyphs" >22 Aug 23:30</text>
<text x="829" y="941" textLength="55" lengthAdjust="spacingAndGlyphs" >26 Aug 04:00</text>
<text x="893" y="941" textLength="55" lengthAdjust="spacingAndGlyphs" >27 Aug 14:55</text>
<text x="957" y="941" textLength="55" lengthAdjust="spacingAndGlyphs" >28 Aug 23:30</text>
<text x="1021" y="941" textLength="55" lengthAdjust="spacingAndGlyphs" >30 Aug 04:00</text>
<text x="1085" y="941" textLength="50" lengthAdjust="spacingAndGlyphs" >2 Sep 14:55</text>
<text x="1149" y="941" textLength="50" lengthAdjust="spacingAndGlyphs" >3 Sep 23:30</text>
<text x="1213" y="941" textLength="50" lengthAdjust="spacingAndGlyphs" >5 Sep 04:00</text>
<text x="1277" y="941" textLength="50" lengthAdjust="spacingAndGlyphs" >6 Sep 14:55</text>
<text x="1341" y="941" textLength="50" lengthAdjust="spacingAndGlyphs" >9 Sep 23:30</text>
<text x="12" y="40" textLength="197" lengthAdjust="spacingAndGlyphs" >JPN225-,H4&#160;&#160;21217.5 21285.0 21202.5 21260.0</text>
<path d="M0 39l3.5-4l3.5 4z" fill="#000"/>
<text x="2" y="596" textLength="127" lengthAdjust="spacingAndGlyphs" >MACD(12,26,9) 104.72 141.79</text>
<text x="2" y="781" textLength="67" lengthAdjust="spacingAndGlyphs" >RSI(14) 58.8416</text>
<text x="1481.6" y="145" font-size="29.3" fill="#ff0000" textLength="96.6" lengthAdjust="spacingAndGlyphs">21310.6</text>
<text x="1391.7" y="288.4" font-family="&quot;Liberation Serif&quot;, &quot;Noto Serif CJK SC&quot;, serif" font-size="32.6" fill="#0a4a0a" textLength="163" lengthAdjust="spacingAndGlyphs">多空转折点</text>
<text x="1390.7" y="287.4" font-family="&quot;Liberation Serif&quot;, &quot;Noto Serif CJK SC&quot;, serif" font-size="32.6" fill="#00ff00" textLength="163" lengthAdjust="spacingAndGlyphs">多空转折点</text>
</svg>

<div style="position:absolute;left:0;top:46px;width:221px;height:68px;background:#fff"></div>
<div style="position:absolute;left:0;top:48px;width:52px;height:25px;box-sizing:border-box;border:1px solid #bf2020;border-bottom:none;background:linear-gradient(#fb5454,#e23434)"></div>
<div style="position:absolute;left:167px;top:48px;width:52px;height:25px;box-sizing:border-box;border:1px solid #bf2020;border-bottom:none;background:linear-gradient(#fb5454,#e23434)"></div>
<div style="position:absolute;left:0;top:72px;width:109px;height:40px;box-sizing:border-box;border:1px solid #a30808;border-top:none;background:linear-gradient(#de2e2e,#c81a1a 50%,#ac0000)"></div>
<div style="position:absolute;left:111px;top:72px;width:108px;height:40px;box-sizing:border-box;border:1px solid #a30808;border-top:none;background:linear-gradient(#de2e2e,#c81a1a 50%,#ac0000)"></div>
<div style="position:absolute;left:52px;top:72px;width:57px;height:1px;background:#b81414"></div>
<div style="position:absolute;left:111px;top:72px;width:56px;height:1px;background:#b81414"></div>
<div style="position:absolute;left:4px;top:71px;width:44px;height:1px;background:#9a0c0c"></div>
<div style="position:absolute;left:4px;top:72px;width:44px;height:1px;background:#f07878"></div>
<div style="position:absolute;left:171px;top:71px;width:44px;height:1px;background:#9a0c0c"></div>
<div style="position:absolute;left:171px;top:72px;width:44px;height:1px;background:#f07878"></div>
<div style="position:absolute;left:54px;top:48px;width:109px;height:20px;border:1px solid #a9a9b2;background:#fff"></div>
<div style="position:absolute;left:55px;top:49px;width:20px;height:20px;background:#ebebeb;border-right:1px solid #b8b8c0"></div>
<div style="position:absolute;left:143px;top:49px;width:20px;height:20px;background:#ebebeb;border-left:1px solid #b8b8c0"></div>
<svg style="position:absolute;left:0;top:48px" width="219" height="64" viewBox="0 0 219 64" font-family="Liberation Sans, sans-serif">
<path d="M61.800 9h5.400l-2.700 3.300z" fill="#000"/><path d="M150.800 12.300h5.400l-2.700-3.300z" fill="#000"/>
<text x="12.2" y="16.1" font-size="13" fill="#fff" textLength="25.7" lengthAdjust="spacingAndGlyphs">SELL</text>
<text x="180.4" y="16.1" font-size="13" fill="#fff" textLength="23" lengthAdjust="spacingAndGlyphs">BUY</text>
<text x="117" y="14.8" font-size="11.6" fill="#06061a" textLength="22.6" lengthAdjust="spacingAndGlyphs">1.00</text>
<text x="16.2" y="55" font-size="12.8" font-weight="bold" fill="#fff" textLength="35" lengthAdjust="spacingAndGlyphs">21258</text>
<text x="126.3" y="55" font-size="12.8" font-weight="bold" fill="#fff" textLength="35" lengthAdjust="spacingAndGlyphs">21306</text>
<text x="53.2" y="55.3" font-size="34" fill="#fff" textLength="24.300" lengthAdjust="spacingAndGlyphs">.5</text>
<text x="164.4" y="55.3" font-size="34" fill="#fff" textLength="24.300" lengthAdjust="spacingAndGlyphs">.5</text>
</svg>

<svg width="1672" height="28" viewBox="0 0 1672 28" style="position:absolute;left:0;top:0" font-family="Liberation Sans, sans-serif">
<defs><pattern id="chk" width="2" height="2" patternUnits="userSpaceOnUse"><rect width="2" height="2" fill="#f6f6f6"/><rect width="1" height="1" fill="#ffffff"/><rect x="1" y="1" width="1" height="1" fill="#ffffff"/></pattern><linearGradient id="gold" x1="0" y1="0" x2="1" y2="1"><stop offset="0" stop-color="#f8d860"/><stop offset="1" stop-color="#c88a10"/></linearGradient><linearGradient id="grn" x1="0" y1="0" x2="0" y2="1"><stop offset="0" stop-color="#5ce05c"/><stop offset="1" stop-color="#0a9a0a"/></linearGradient><radialGradient id="lens"><stop offset="0" stop-color="#ffffff"/><stop offset="1" stop-color="#b8dcf8"/></radialGradient><linearGradient id="blu" x1="0" y1="0" x2="0" y2="1"><stop offset="0" stop-color="#4aa8ff"/><stop offset="1" stop-color="#1060d0"/></linearGradient><linearGradient id="gold2" x1="0" y1="1" x2="1" y2="0"><stop offset="0" stop-color="#d8981c"/><stop offset=".5" stop-color="#fce470"/><stop offset="1" stop-color="#e0a41c"/></linearGradient><linearGradient id="cloud" x1="0" y1="0" x2="0" y2="1"><stop offset="0" stop-color="#ffffff"/><stop offset="1" stop-color="#c4d0ec"/></linearGradient></defs>
<rect x="0" y="0" width="1672" height="23" fill="#f0f0f0"/>
<rect x="0" y="23" width="1672" height="1" fill="#e2e2e2"/>
<rect x="0" y="24" width="1672" height="1" fill="#a6a6a6"/>
<rect x="0" y="25" width="1672" height="1" fill="#6e6e6e"/>
<rect x="0" y="26" width="1672" height="2" fill="#ffffff"/>
<path d="M-2 4.500h6.500l3 3v7h-9.500z" fill="#fff" stroke="#7c7c7c" stroke-width="1"/><path d="M4.500 4.500v3h3" fill="none" stroke="#9a9a9a" stroke-width=".8"/><path d="M0 6.500h2.500" stroke="#606060"/><path d="M0 9.500h4.500M0 11.500h2.500" stroke="#a0a0a0"/>
<path d="M3.9 10.300h4.200v4.100h3.600v3.600h-3.600v3.900h-4.200v-3.900h-3.900v-3.600h3.900z" fill="url(#grn)" stroke="#108a10" stroke-width="0.8"/>
<text x="14.5" y="15" font-family="&quot;Liberation Sans&quot;, &quot;Noto Sans CJK SC&quot;, sans-serif" font-size="12" fill="#000">新订单</text>
<path d="M68.200 5.300L78.200 11L79 14.100L71.600 19.800L63 14.300Q66.500 10.500 68.200 5.300z" fill="url(#gold2)" stroke="#9a6410" stroke-width=".9"/>
<path d="M64.200 15.200L71.600 18.600L78.300 13.400" stroke="#fff4c0" stroke-width=".8" fill="none" opacity=".75"/><path d="M68.600 7.200L77 12" stroke="#fff8d0" stroke-width="1" fill="none" opacity=".6"/>
<path d="M93.200 5.200l3-1h8v9.800h-8l-3-1z" fill="#2a98ff"/><path d="M93.200 5.200l3-1v9.800l-3-1z" fill="#7cc4ff"/><path d="M98 7.600h4.500M98 9.600h4.500" stroke="#d8f0ff" stroke-width=".9"/>
<path d="M94 19.600a3 3 0 0 1-.4-6a3.600 3.600 0 0 1 6.400-1.300a3.100 3.100 0 0 1 4.600 1.700a2.900 2.900 0 0 1-.3 5.600z" fill="url(#cloud)" stroke="#5878b8" stroke-width=".9"/>
<circle cx="127" cy="11.800" r="8" fill="#f4f8fc"/><path d="M127.400 11.800V19.800A8 8 0 0 0 135 11.800z" fill="#58b058" opacity=".45"/><path d="M127 3.800A8 8 0 0 1 135 11.800H127z" fill="#88c088" opacity=".25"/>
<g fill="none"><path d="M127 15.400a3.600 3.600 0 0 1 0-7.200" stroke="#3a6ad8" stroke-width="1.200"/><path d="M127 17.800a6 6 0 0 1 0-12" stroke="#6a90e0" stroke-width="1.100"/><path d="M127 19.900a8.100 8.100 0 0 1 0-16.200" stroke="#a8c0ec" stroke-width="1"/><path d="M127 8.200a3.600 3.600 0 0 1 2.500 6.200" stroke="#4a9a5a" stroke-width="1.100"/><path d="M127 5.800a6 6 0 0 1 4.200 10.300" stroke="#6ab070" stroke-width="1"/><path d="M127 3.700a8.100 8.100 0 0 1 5.700 13.900" stroke="#a4cca4" stroke-width="1"/></g>
<circle cx="126.900" cy="11.700" r="1.900" fill="#2a50d0"/><path d="M127.500 12v7.800" stroke="#18a018" stroke-width="1.500"/>
<path d="M147.500 11.500l7.800 8.300l7-8.300z" fill="#ffe468" stroke="#c89810" stroke-width=".8"/>
<ellipse cx="154" cy="9" rx="8" ry="3" fill="#4a9cd8" stroke="#2878b8" stroke-width=".8"/><ellipse cx="154" cy="7" rx="4.200" ry="2.900" fill="#7cc4f0" stroke="#3a88c8" stroke-width=".6"/>
<circle cx="158.400" cy="15.800" r="4.100" fill="#e02810" stroke="#b01808" stroke-width=".6"/><rect x="156.700" y="14.100" width="3.400" height="3.400" fill="#fff"/>
<text x="167.500" y="15" font-family="&quot;Liberation Sans&quot;, &quot;Noto Sans CJK SC&quot;, sans-serif" font-size="12" fill="#000">自动交易</text>
<rect x="222" y="0" width="1" height="24" fill="#a0a0a0" shape-rendering="crispEdges"/><rect x="223" y="0" width="1" height="24" fill="#ffffff" shape-rendering="crispEdges"/>
<g fill="#b4b4b4" shape-rendering="crispEdges"><rect x="226" y="2" width="3" height="1"/><rect x="226" y="4" width="3" height="1"/><rect x="226" y="6" width="3" height="1"/><rect x="226" y="8" width="3" height="1"/><rect x="226" y="10" width="3" height="1"/><rect x="226" y="12" width="3" height="1"/><rect x="226" y="14" width="3" height="1"/><rect x="226" y="16" width="3" height="1"/><rect x="226" y="18" width="3" height="1"/><rect x="226" y="20" width="3" height="1"/></g>
<g stroke="#505050" stroke-width="1.2" fill="none"><path d="M240.5 20V6.500M238 17.500h13.500"/><path d="M238.500 8.500l2-2.500l2 2.500M250 15.500l2.200 2l-2.200 2" stroke-width="1"/></g>
<path d="M246.500 8v8M246.500 8.500h2.500M244 15.500h2.500" stroke="#109010" stroke-width="1.400" fill="none"/>
<rect x="260" y="0" width="25" height="23" fill="url(#chk)" shape-rendering="crispEdges"/><rect x="260" y="0" width="25" height="1" fill="#a0a0a0" shape-rendering="crispEdges"/><rect x="260" y="0" width="1" height="22" fill="#a0a0a0" shape-rendering="crispEdges"/>
<g stroke="#505050" stroke-width="1.2" fill="none"><path d="M268.500 20V6.500M266 17.500h13.500"/><path d="M266.500 8.500l2-2.500l2 2.500M278 15.500l2.200 2l-2.200 2" stroke-width="1"/></g>
<path d="M274.500 4v12.500" stroke="#109010" stroke-width="1.200"/><rect x="272.500" y="6.500" width="4" height="7.500" fill="#50e050" stroke="#109010" stroke-width="1"/>
<g stroke="#505050" stroke-width="1.2" fill="none"><path d="M296.500 20V6.500M294 17.500h13.500"/><path d="M294.500 8.500l2-2.500l2 2.500M306 15.500l2.200 2l-2.200 2" stroke-width="1"/></g>
<path d="M295 15q5-8 7.500-5t4 3.500" stroke="#309030" stroke-width="1.300" fill="none"/>
<rect x="317" y="1" width="1" height="21" fill="#a0a0a0" shape-rendering="crispEdges"/>
<path d="M335.300 13.500l6 6" stroke="#c89818" stroke-width="2.600" stroke-linecap="round"/><path d="M335.600 13.800l5.400 5.400" stroke="#f8e070" stroke-width="1"/>
<circle cx="331.800" cy="10" r="5.400" fill="url(#lens)" stroke="#3878c8" stroke-width="1.300"/>
<path d="M328.800 10h6" stroke="#3880b8" stroke-width="1.800"/>
<path d="M331.800 7v6" stroke="#3880b8" stroke-width="1.800"/>
<path d="M363.300 13.500l6 6" stroke="#c89818" stroke-width="2.600" stroke-linecap="round"/><path d="M363.600 13.800l5.400 5.400" stroke="#f8e070" stroke-width="1"/>
<circle cx="359.800" cy="10" r="5.400" fill="url(#lens)" stroke="#3878c8" stroke-width="1.300"/>
<path d="M356.800 10h6" stroke="#3880b8" stroke-width="1.800"/>
<g shape-rendering="crispEdges"><rect x="382" y="4" width="8" height="8" fill="#3a9a1a"/><rect x="390" y="4" width="8" height="8" fill="#2858d0"/><rect x="382" y="12" width="8" height="8" fill="#2858d0"/><rect x="390" y="12" width="8" height="8" fill="#3a9a1a"/><rect x="383" y="7" width="6" height="4" fill="#fff"/><rect x="391" y="7" width="6" height="4" fill="#fff"/><rect x="383" y="15" width="6" height="4" fill="#fff"/><rect x="391" y="15" width="6" height="4" fill="#fff"/><rect x="384" y="8" width="4" height="1" fill="#90d070"/><rect x="392" y="8" width="4" height="1" fill="#90a8f0"/><rect x="384" y="16" width="4" height="1" fill="#90a8f0"/><rect x="392" y="16" width="4" height="1" fill="#90d070"/></g>
<rect x="407" y="1" width="1" height="21" fill="#a0a0a0" shape-rendering="crispEdges"/>
<rect x="412" y="0" width="25" height="23" fill="url(#chk)" shape-rendering="crispEdges"/><rect x="412" y="0" width="25" height="1" fill="#a0a0a0" shape-rendering="crispEdges"/><rect x="412" y="0" width="1" height="22" fill="#a0a0a0" shape-rendering="crispEdges"/>
<g stroke="#505050" stroke-width="1.2" fill="none"><path d="M420.500 20V6.500M418 17.500h13.500"/><path d="M418.500 8.500l2-2.500l2 2.500M430 15.500l2.200 2l-2.200 2" stroke-width="1"/></g>
<path d="M426 8.500l3.500 3l-3.500 3z" fill="#70e070" stroke="#109010" stroke-width="1"/>
<rect x="440" y="0" width="25" height="23" fill="url(#chk)" shape-rendering="crispEdges"/><rect x="440" y="0" width="25" height="1" fill="#a0a0a0" shape-rendering="crispEdges"/><rect x="440" y="0" width="1" height="22" fill="#a0a0a0" shape-rendering="crispEdges"/>
<g stroke="#505050" stroke-width="1.2" fill="none"><path d="M448.500 20V6.500M446 17.500h13.500"/><path d="M446.500 8.500l2-2.500l2 2.500M458 15.500l2.200 2l-2.200 2" stroke-width="1"/></g>
<path d="M454.500 6v10" stroke="#2868c0" stroke-width="1.200"/><path d="M460 11.500h-4.500m2-2l-2 2l2 2" stroke="#d04810" stroke-width="1.100" fill="none"/>
<rect x="469" y="1" width="1" height="21" fill="#a0a0a0" shape-rendering="crispEdges"/>
<path d="M479.500 4.500h7l3 3v9.500h-10z" fill="#fff" stroke="#909090" stroke-width="1"/><path d="M483 7q-1.500 1-1 3t-1 3" stroke="#707070" fill="none" stroke-width=".9"/>
<path d="M487 10.500h3.500v3.500h4v3.500h-4v3.500h-3.500v-3.500h-4v-3.500h4z" fill="url(#grn)" stroke="#108a10" stroke-width=".8"/>
<path d="M500.500 10.500h6l-3 3.200z" fill="#000"/>
<circle cx="524.700" cy="11.800" r="7.400" fill="#2878e0" stroke="#1850b0" stroke-width="1"/><circle cx="524.700" cy="11.800" r="5" fill="#f4f8ff"/><path d="M524.700 8.500v3.500h3" stroke="#404040" stroke-width="1" fill="none"/>
<path d="M539.500 10.500h6l-3 3.200z" fill="#000"/>
<rect x="556.500" y="5.500" width="15" height="13" fill="#fff" stroke="#3878d0" stroke-width="1"/><rect x="556" y="5" width="16" height="2.500" fill="#3878d0"/><path d="M557 12.500h14" stroke="#3878d0" stroke-width=".8"/><path d="M558 10.500l3-1l2 .5l3-1l3 .5" stroke="#b02810" stroke-width="1.200" fill="none"/><path d="M558 16.500l3-1l2 1l3-2l3 2" stroke="#189018" stroke-width="1.200" fill="none"/>
<path d="M578 10.500h6l-3 3.200z" fill="#000"/>
<rect x="590" y="0" width="1" height="24" fill="#a0a0a0" shape-rendering="crispEdges"/><rect x="591" y="0" width="1" height="24" fill="#ffffff" shape-rendering="crispEdges"/>
<g fill="#b4b4b4" shape-rendering="crispEdges"><rect x="594" y="2" width="3" height="1"/><rect x="594" y="4" width="3" height="1"/><rect x="594" y="6" width="3" height="1"/><rect x="594" y="8" width="3" height="1"/><rect x="594" y="10" width="3" height="1"/><rect x="594" y="12" width="3" height="1"/><rect x="594" y="14" width="3" height="1"/><rect x="594" y="16" width="3" height="1"/><rect x="594" y="18" width="3" height="1"/><rect x="594" y="20" width="3" height="1"/></g>
<rect x="600" y="0" width="25" height="23" fill="url(#chk)" shape-rendering="crispEdges"/><rect x="600" y="0" width="25" height="1" fill="#a0a0a0" shape-rendering="crispEdges"/><rect x="600" y="0" width="1" height="22" fill="#a0a0a0" shape-rendering="crispEdges"/>
<path d="M608 4.800v12.400l3-2.800l2.400 5.200l2-1l-2.400-5h4.200z" fill="#404040"/>
<path d="M640.500 5v15M633 12.500h15" stroke="#404040" stroke-width="1"/><rect x="639" y="11" width="3" height="3" fill="#f0f0f0"/><rect x="640" y="12" width="1" height="1" fill="#404040"/>
<rect x="657" y="1" width="1" height="21" fill="#a0a0a0" shape-rendering="crispEdges"/>
<path d="M674.500 6v13" stroke="#404040" stroke-width="1"/>
<path d="M697 12.500h12" stroke="#404040" stroke-width="1"/>
<path d="M724.500 19l12.500-12" stroke="#404040" stroke-width="1.100"/>
<g stroke="#505050" stroke-width="1" fill="none"><path d="M751.500 14.500l12.500-10M753 18.500l12.500-10M754 12v7M757.500 9.500v7M761 6.500v7.500M764 4v7"/></g><text x="762" y="20.500" font-size="6.500" font-weight="bold" fill="#303030">E</text>
<g stroke="#505050" stroke-width="1" stroke-dasharray="1 1" shape-rendering="crispEdges"><path d="M780 5.500h13M780 8.500h13M780 12.500h13M780 16.500h9"/></g><text x="790" y="20.500" font-size="6.500" font-weight="bold" fill="#303030">F</text>
<text x="810.3" y="17" font-size="12.500" fill="#505050" stroke="#505050" stroke-width=".35">A</text>
<rect x="837.500" y="6.500" width="11" height="12" fill="none" stroke="#505050" stroke-width="1" stroke-dasharray="1 1" shape-rendering="crispEdges"/><text x="839.300" y="17" font-size="11" font-weight="bold" fill="#505050">T</text>
<path d="M867 5.500l3 3l-3 3l-3-3zM875 13.500l3 3l-3 3l-3-3z" fill="#404040"/><path d="M866.500 12.500l2.500 2.500l4.500-5" stroke="#404040" stroke-width="1.200" fill="none"/>
<path d="M884.300 10.500h6l-3 3.200z" fill="#000"/>
<rect x="896" y="0" width="1" height="24" fill="#a0a0a0" shape-rendering="crispEdges"/><rect x="897" y="0" width="1" height="24" fill="#ffffff" shape-rendering="crispEdges"/>
<g fill="#b4b4b4" shape-rendering="crispEdges"><rect x="900" y="2" width="3" height="1"/><rect x="900" y="4" width="3" height="1"/><rect x="900" y="6" width="3" height="1"/><rect x="900" y="8" width="3" height="1"/><rect x="900" y="10" width="3" height="1"/><rect x="900" y="12" width="3" height="1"/><rect x="900" y="14" width="3" height="1"/><rect x="900" y="16" width="3" height="1"/><rect x="900" y="18" width="3" height="1"/><rect x="900" y="20" width="3" height="1"/></g>
<rect x="1046" y="0" width="25" height="23" fill="url(#chk)" shape-rendering="crispEdges"/><rect x="1046" y="0" width="25" height="1" fill="#a0a0a0" shape-rendering="crispEdges"/><rect x="1046" y="0" width="1" height="22" fill="#a0a0a0" shape-rendering="crispEdges"/>
<text x="918" y="16" font-size="10" fill="#3c3c3c" text-anchor="middle" text-rendering="geometricPrecision">M1</text>
<text x="946" y="16" font-size="10" fill="#3c3c3c" text-anchor="middle" text-rendering="geometricPrecision">M5</text>
<text x="974" y="16" font-size="10" fill="#3c3c3c" text-anchor="middle" text-rendering="geometricPrecision">M15</text>
<text x="1002" y="16" font-size="10" fill="#3c3c3c" text-anchor="middle" text-rendering="geometricPrecision">M30</text>
<text x="1030" y="16" font-size="10" fill="#3c3c3c" text-anchor="middle" text-rendering="geometricPrecision">H1</text>
<text x="1058" y="16" font-size="10" fill="#3c3c3c" text-anchor="middle" text-rendering="geometricPrecision">H4</text>
<text x="1086" y="16" font-size="10" fill="#3c3c3c" text-anchor="middle" text-rendering="geometricPrecision">D1</text>
<text x="1114" y="16" font-size="10" fill="#3c3c3c" text-anchor="middle" text-rendering="geometricPrecision">W1</text>
<text x="1142" y="16" font-size="10" fill="#3c3c3c" text-anchor="middle" text-rendering="geometricPrecision">MN</text>
<rect x="1157" y="0" width="1" height="24" fill="#a0a0a0" shape-rendering="crispEdges"/>
<path d="M1625 12.500l-5 4.500" stroke="#2050c8" stroke-width="2.400" stroke-linecap="round"/><circle cx="1627.900" cy="9.500" r="3.900" fill="#fff" stroke="#2858d0" stroke-width="1.300"/>
<path d="M1654 11a6 4.600 0 1 1 9.500 2.500l.8 2.300l-2.800-1.400a6 4.600 0 0 1-7.500-3.400z" fill="#f4f4f8" stroke="#9a9aa4" stroke-width=".9"/><path d="M1646.300 13.500a4.800 3.800 0 1 1 4 3.800l-2.300 1.700l.3-2.300a4.800 3.800 0 0 1-2-3.200z" fill="#f4f4f8" stroke="#8a8a94" stroke-width=".9"/>
</svg>
<div style="position:absolute;left:1671px;top:26px;width:1px;height:920px;background:#e3e3e3"></div>
</body></html>
